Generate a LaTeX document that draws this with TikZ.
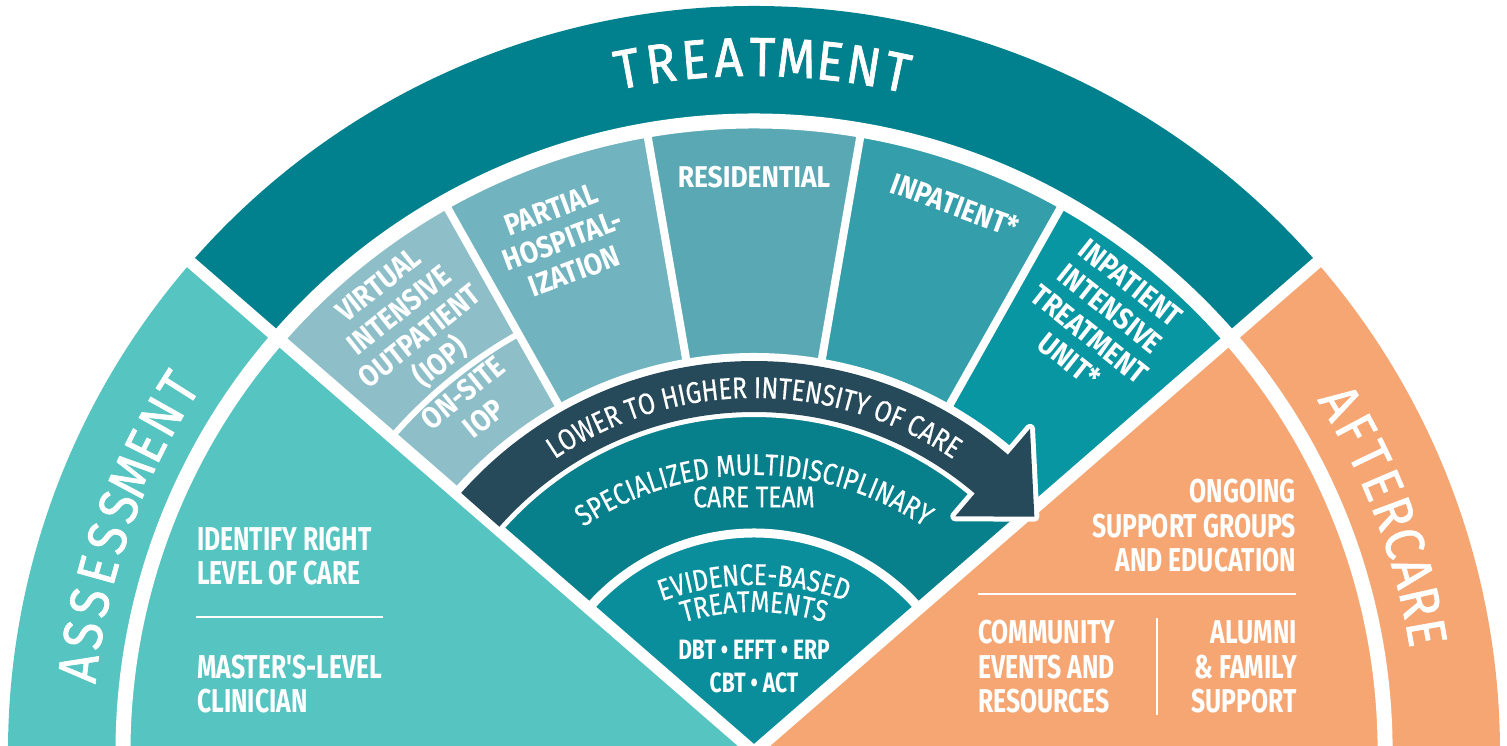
\documentclass[tikz,border=0pt]{standalone}
\usepackage{fontspec}
\usepackage{xcolor}
\usepackage{tikz}
\usetikzlibrary{decorations.text}
\newfontfamily\arcfont{Fira Sans}[FakeStretch=0.82, FakeBold=0.4]
\newfontfamily\labelfont{Fira Sans}[FakeStretch=0.75]
\newfontfamily\wedgefont{Fira Sans}[FakeStretch=0.88]
\newfontfamily\titlefont{Fira Sans}[FakeStretch=0.9, FakeBold=1.2]
\definecolor{assesscol}{HTML}{56C4C1}
\definecolor{treatcol}{HTML}{00818D}
\definecolor{aftercol}{HTML}{F6A672}
\definecolor{iopcol}{HTML}{8EBFC9}
\definecolor{partialcol}{HTML}{71B3BE}
\definecolor{rescol}{HTML}{59A8B4}
\definecolor{inpatcol}{HTML}{349EAA}
\definecolor{itucol}{HTML}{0896A3}
\definecolor{arrowcol}{HTML}{264A5A}
\definecolor{teamcol}{HTML}{08808C}
\definecolor{ebtcol}{HTML}{0A8E9C}
\newcommand{\titlesize}{\titlefont\fontsize{55}{55}\selectfont}
\newcommand{\wedgesize}{\wedgefont\bfseries\fontsize{30}{33}\selectfont}
\newcommand{\panelsize}{\labelfont\bfseries\fontsize{33}{34.5}\selectfont}
\newcommand{\bandsize}{\arcfont\fontsize{30}{30}\selectfont}
\newcommand{\ebtsize}{\arcfont\fontsize{30}{30}\selectfont}
\newcommand{\fansector}[5]{\fill[#1] (#2:#5pt) arc[start angle=#2, end angle=#3, radius=#5pt] -- (#3:#4pt) arc[start angle=#3, end angle=#2, radius=#4pt] -- cycle;}
\tikzset{
  gap/.style={draw=white, line width=#1},
  titletext/.style={text=white, inner sep=0pt, font=\titlesize},
  wedgetext/.style={text=white, inner sep=0pt, align=center, font=\wedgesize},
  paneltext/.style={text=white, inner sep=0pt, font=\panelsize},
  bandtext/.style={decorate, decoration={text along path, text align=center, text color=white, text={#1}}}
}

\begin{document}
\begin{tikzpicture}[x=1pt,y=1pt]
\useasboundingbox (-754,6) rectangle (753,752);
\clip (-754,6) rectangle (753,752);
\fansector{assesscol}{139}{190}{0.1}{746}
\fansector{treatcol}{41}{139}{0.1}{746}
\fansector{aftercol}{-10}{41}{0.1}{746}
\fansector{iopcol}{119.4}{139}{364}{632}
\fansector{partialcol}{99.8}{119.4}{364}{632}
\fansector{rescol}{80.2}{99.8}{364}{632}
\fansector{inpatcol}{60.6}{80.2}{364}{632}
\fansector{itucol}{41}{60.6}{364}{632}
\fansector{teamcol}{41}{139}{219}{364}
\fansector{ebtcol}{41}{139}{0.1}{219}

\draw[gap=15] (-10:631pt) arc[start angle=-10, end angle=190, radius=631pt];
\foreach \a in {119.4,99.8,80.2,60.6}
  \draw[gap=8] (\a:390pt) -- (\a:632pt);
\draw[gap=6] (119.4:480pt) arc[start angle=119.4, end angle=139, radius=480pt];
\draw[gap=8] (49:395pt) arc[start angle=49, end angle=139, radius=395pt];
\draw[gap=9] (41:219pt) arc[start angle=41, end angle=139, radius=219pt];
\foreach \a in {41,139}
  \draw[gap=12] (0,0) -- (\a:760pt);

\fill[arrowcol, preaction={draw=white, line width=10, line join=round}]
  (138.5:391pt) arc[start angle=138.5, end angle=49.5, radius=391pt]
  -- (49.5:425pt) -- (40:366pt) -- (49.5:310pt) -- (49.5:340pt)
  arc[start angle=49.5, end angle=138.5, radius=340pt] -- cycle;

\foreach \ch [count=\i] in {T,R,E,A,T,M,E,N,T}
  \node[titletext, rotate={10.5-2.8*(\i-1)}] (treat\i) at ({100.5-2.8*(\i-1)}:695pt) {\ch};
\foreach \ch [count=\i] in {A,S,S,E,S,S,M,E,N,T}
  \node[titletext, rotate={82.9-2.8*(\i-1)}] (assess\i) at ({172.9-2.8*(\i-1)}:681pt) {\ch};
\foreach \ch [count=\i] in {A,F,T,E,R,C,A,R,E}
  \node[titletext, rotate={-59.2-2.59*(\i-1)}] (after\i) at ({30.8-2.59*(\i-1)}:683pt) {\ch};

\node[wedgetext, rotate=38.5] (virtual) at (128.8:548pt) {VIRTUAL\\INTENSIVE\\OUTPATIENT\\(IOP)};
\node[wedgetext, rotate=39] (onsite) at (129:446pt) {ON-SITE\\IOP};
\node[wedgetext, rotate=20.5] (partial) at (110.5:546pt) {PARTIAL\\HOSPITAL-\\IZATION};
\node[wedgetext] (residential) at (90:575pt) {RESIDENTIAL};
\node[wedgetext, rotate=-20.2] (inpatient) at (69.8:583pt) {INPATIENT*};
\node[wedgetext, rotate=-38.5] (itu) at (51.2:552pt) {INPATIENT\\INTENSIVE\\TREATMENT\\UNIT*};

\path[bandtext={|\bandsize|LOWER TO HIGHER INTENSITY OF CARE}]
  (139:354pt) arc[start angle=139, end angle=41, radius=354pt];
\path[shift={(0,-28)}, bandtext={|\bandsize|SPECIALIZED MULTIDISCIPLINARY}]
  (150:305pt) arc[start angle=150, end angle=30, radius=305pt];
\node[text=white, inner sep=0pt, font=\bandsize] (careteam) at (0,255) {CARE TEAM};
\path[shift={(0,-103)}, bandtext={|\ebtsize|EVIDENCE-BASED}]
  (150:270pt) arc[start angle=150, end angle=30, radius=270pt];
\path[shift={(0,-103)}, bandtext={|\ebtsize|TREATMENTS}]
  (150:243pt) arc[start angle=150, end angle=30, radius=243pt];
\node[text=white, inner sep=0pt, font=\labelfont\bfseries\fontsize{28}{28}\selectfont] (dbt) at (0,102) {DBT • EFFT • ERP};
\node[text=white, inner sep=0pt, font=\labelfont\bfseries\fontsize{28}{28}\selectfont] (cbt) at (0,69) {CBT • ACT};

\node[paneltext, align=left, anchor=west] (identify) at (-557,196) {IDENTIFY RIGHT\\LEVEL OF CARE};
\draw[white, line width=2] (-558,135) -- (-371,135);
\node[paneltext, align=left, anchor=west] (clinician) at (-557,68) {MASTER'S-LEVEL\\CLINICIAN};

\node[paneltext, align=right, anchor=east] (ongoing) at (542,226) {ONGOING\\SUPPORT GROUPS\\AND EDUCATION};
\draw[white, line width=2] (224,158) -- (542,158);
\node[paneltext, align=left, anchor=west] (community) at (224,85) {COMMUNITY\\EVENTS AND\\RESOURCES};
\draw[white, line width=2] (403,134) -- (403,37);
\node[paneltext, align=right, anchor=east] (alumni) at (543,85) {ALUMNI\\\& FAMILY\\SUPPORT};
\end{tikzpicture}
\end{document}
